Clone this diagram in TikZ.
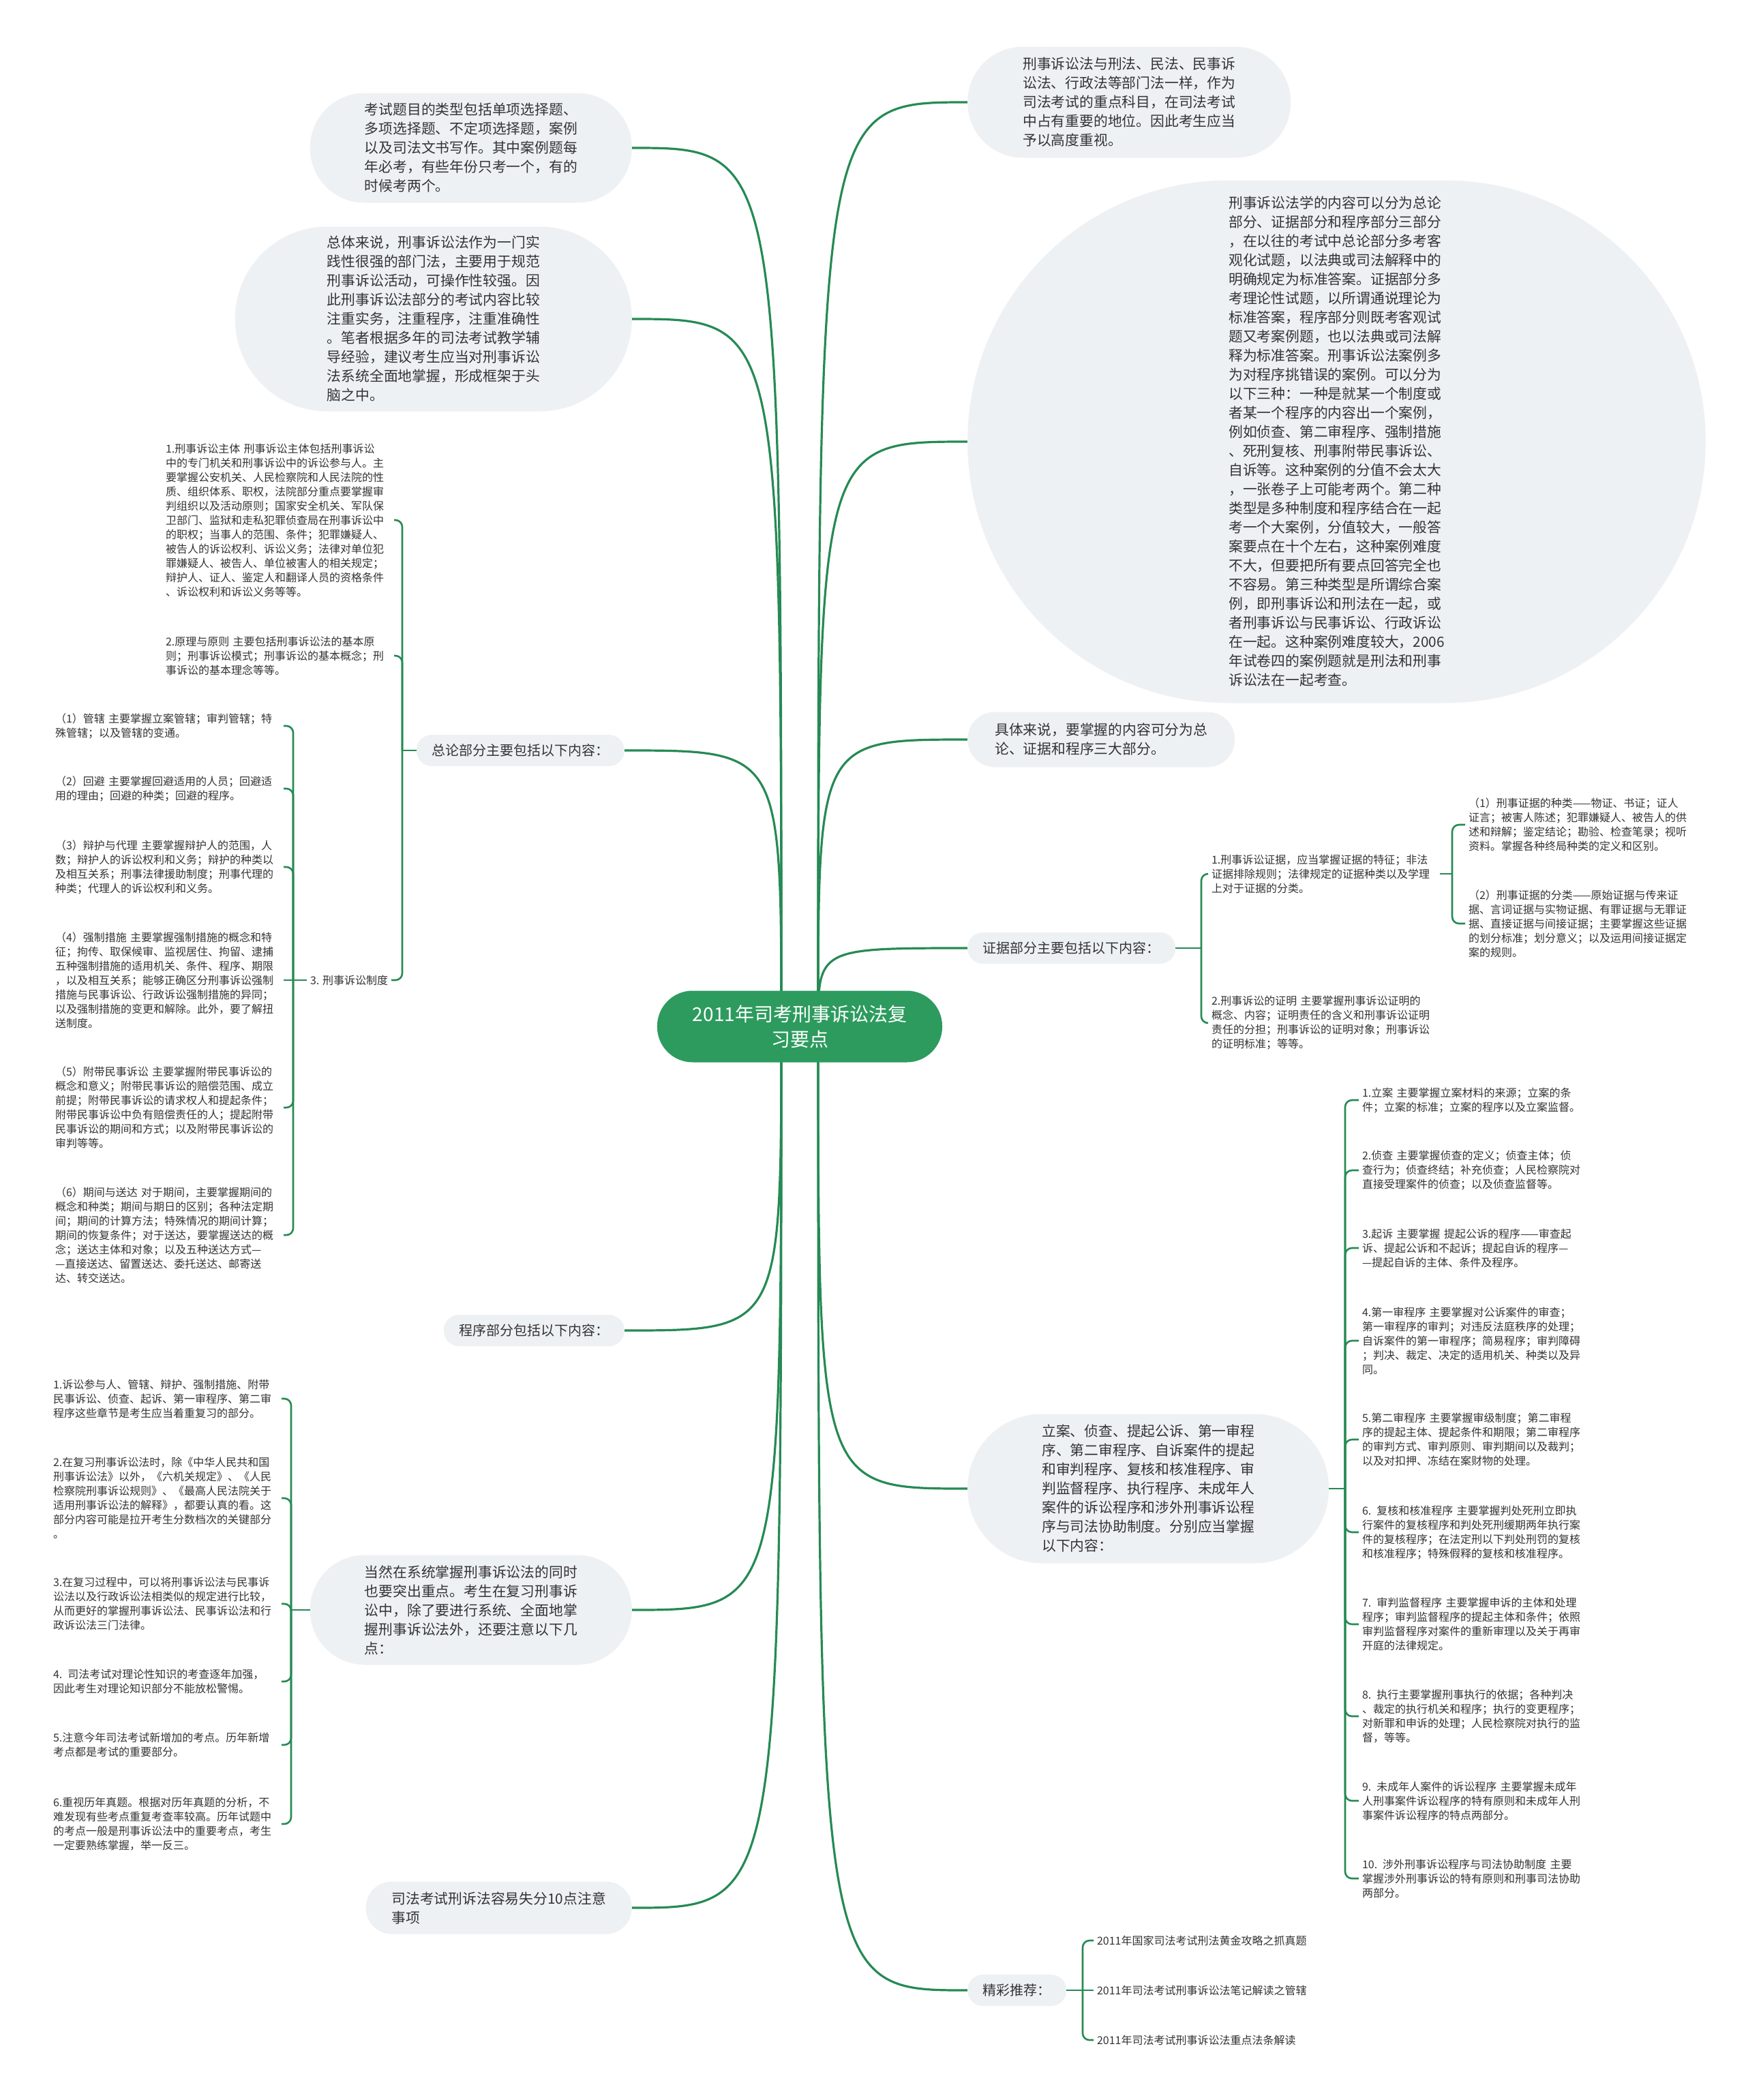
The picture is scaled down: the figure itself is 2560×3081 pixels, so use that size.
\documentclass[tikz,border=0pt]{standalone}
\usepackage{fontspec}
\newfontfamily\cjkfont{Noto Sans CJK SC}
\usetikzlibrary{backgrounds}
\definecolor{branch}{HTML}{268A54}
\definecolor{hubfill}{HTML}{2D9B5E}
\definecolor{bubblefill}{HTML}{EEF1F4}
\definecolor{ink}{HTML}{333333}

\begin{document}
\begin{tikzpicture}[x=1pt,y=-1pt,
    hub/.style={rectangle,rounded corners=52pt,minimum height=105pt,inner xsep=52pt,inner ysep=0pt,fill=hubfill,text=white,align=center,font=\cjkfont\fontsize{28pt}{37pt}\selectfont},
    bubble/.style={rectangle,rounded corners=#1,minimum height=2*#1+1pt,inner xsep=#1,inner ysep=0pt,fill=bubblefill,text=ink,align=left,font=\cjkfont\fontsize{20.8pt}{28pt}\selectfont},
    topic/.style={rectangle,rounded corners=22.5pt,minimum height=46pt,inner xsep=22.5pt,inner ysep=0pt,fill=bubblefill,text=ink,font=\cjkfont\fontsize{20pt}{24pt}\selectfont},
    leaf/.style={text=ink,align=left,inner sep=0pt,outer sep=5pt,font=\cjkfont\fontsize{16pt}{21pt}\selectfont},
    limb/.style={draw=branch,line width=3.2pt},
    brk/.style={draw=branch,line width=2.6pt,rounded corners=10pt}]
            \useasboundingbox (0,0) rectangle (2560,3081);

            \node[hub] (root) at (1173,1506) {2011年司考刑事诉讼法复\\习要点};
            \coordinate (rs) at (1200,1506);
            \coordinate (ls) at (1146,1506);

            \node[bubble=81pt,anchor=west] (r1) at (1419,150) {刑事诉讼法与刑法、民法、民事诉\\讼法、行政法等部门法一样，作为\\司法考试的重点科目，在司法考试\\中占有重要的地位。因此考生应当\\予以高度重视。};
            \node[bubble=383pt,anchor=west] (r2) at (1419,648) {刑事诉讼法学的内容可以分为总论\\部分、证据部分和程序部分三部分\\，在以往的考试中总论部分多考客\\观化试题，以法典或司法解释中的\\明确规定为标准答案。证据部分多\\考理论性试题，以所谓通说理论为\\标准答案，程序部分则既考客观试\\题又考案例题，也以法典或司法解\\释为标准答案。刑事诉讼法案例多\\为对程序挑错误的案例。可以分为\\以下三种：一种是就某一个制度或\\者某一个程序的内容出一个案例，\\例如侦查、第二审程序、强制措施\\、死刑复核、刑事附带民事诉讼、\\自诉等。这种案例的分值不会太大\\，一张卷子上可能考两个。第二种\\类型是多种制度和程序结合在一起\\考一个大案例，分值较大，一般答\\案要点在十个左右，这种案例难度\\不大，但要把所有要点回答完全也\\不容易。第三种类型是所谓综合案\\例，即刑事诉讼和刑法在一起，或\\者刑事诉讼与民事诉讼、行政诉讼\\在一起。这种案例难度较大，2006\\年试卷四的案例题就是刑法和刑事\\诉讼法在一起考查。};
            \node[bubble=40pt,anchor=west] (r3) at (1419,1085) {具体来说，要掌握的内容可分为总\\论、证据和程序三大部分。};
            \node[topic,anchor=west] (r4) at (1419,1391) {证据部分主要包括以下内容：};
            \node[bubble=109pt,anchor=west] (r5) at (1419,2184) {立案、侦查、提起公诉、第一审程\\序、第二审程序、自诉案件的提起\\和审判程序、复核和核准程序、审\\判监督程序、执行程序、未成年人\\案件的诉讼程序和涉外刑事诉讼程\\序与司法协助制度。分别应当掌握\\以下内容：};
            \node[topic,anchor=west] (r6) at (1419,2920) {精彩推荐：};

            \node[leaf,anchor=west,text width=330pt] (e1) at (1772,1282) {1.刑事诉讼证据，应当掌握证据的特征；非法\\证据排除规则；法律规定的证据种类以及学理\\上对于证据的分类。};
            \node[leaf,anchor=west,text width=330pt] (e2) at (1772,1501) {2.刑事诉讼的证明 主要掌握刑事诉讼证明的\\概念、内容；证明责任的含义和刑事诉讼证明\\责任的分担；刑事诉讼的证明对象；刑事诉讼\\的证明标准；等等。};
            \node[leaf,anchor=west,text width=330pt] (e1a) at (2149,1210) {（1）刑事证据的种类——物证、书证；证人\\证言；被害人陈述；犯罪嫌疑人、被告人的供\\述和辩解；鉴定结论；勘验、检查笔录；视听\\资料。掌握各种终局种类的定义和区别。};
            \node[leaf,anchor=west,text width=330pt] (e1b) at (2149,1355) {（2）刑事证据的分类——原始证据与传来证\\据、言词证据与实物证据、有罪证据与无罪证\\据、直接证据与间接证据；主要掌握这些证据\\的划分标准；划分意义；以及运用间接证据定\\案的规则。};

            \node[leaf,anchor=west,text width=330pt] (p1) at (1993,1614) {1.立案 主要掌握立案材料的来源；立案的条\\件；立案的标准；立案的程序以及立案监督。};
            \node[leaf,anchor=west,text width=330pt] (p2) at (1993,1717) {2.侦查 主要掌握侦查的定义；侦查主体；侦\\查行为；侦查终结；补充侦查；人民检察院对\\直接受理案件的侦查；以及侦查监督等。};
            \node[leaf,anchor=west,text width=330pt] (p3) at (1993,1831) {3.起诉 主要掌握 提起公诉的程序——审查起\\诉、提起公诉和不起诉；提起自诉的程序—\\—提起自诉的主体、条件及程序。};
            \node[leaf,anchor=west,text width=330pt] (p4) at (1993,1967) {4.第一审程序 主要掌握对公诉案件的审查；\\第一审程序的审判；对违反法庭秩序的处理；\\自诉案件的第一审程序；简易程序；审判障碍\\；判决、裁定、决定的适用机关、种类以及异\\同。};
            \node[leaf,anchor=west,text width=330pt] (p5) at (1993,2112) {5.第二审程序 主要掌握审级制度；第二审程\\序的提起主体、提起条件和期限；第二审程序\\的审判方式、审判原则、审判期间以及裁判；\\以及对扣押、冻结在案财物的处理。};
            \node[leaf,anchor=west,text width=330pt] (p6) at (1993,2248) {6. 复核和核准程序 主要掌握判处死刑立即执\\行案件的复核程序和判处死刑缓期两年执行案\\件的复核程序；在法定刑以下判处刑罚的复核\\和核准程序；特殊假释的复核和核准程序。};
            \node[leaf,anchor=west,text width=330pt] (p7) at (1993,2383) {7. 审判监督程序 主要掌握申诉的主体和处理\\程序；审判监督程序的提起主体和条件；依照\\审判监督程序对案件的重新审理以及关于再审\\开庭的法律规定。};
            \node[leaf,anchor=west,text width=330pt] (p8) at (1993,2518) {8. 执行主要掌握刑事执行的依据；各种判决\\、裁定的执行机关和程序；执行的变更程序；\\对新罪和申诉的处理；人民检察院对执行的监\\督，等等。};
            \node[leaf,anchor=west,text width=330pt] (p9) at (1993,2642) {9. 未成年人案件的诉讼程序 主要掌握未成年\\人刑事案件诉讼程序的特有原则和未成年人刑\\事案件诉讼程序的特点两部分。};
            \node[leaf,anchor=west,text width=330pt] (p10) at (1993,2756) {10. 涉外刑事诉讼程序与司法协助制度 主要\\掌握涉外刑事诉讼的特有原则和刑事司法协助\\两部分。};

            \node[leaf,anchor=west] (j1) at (1604,2847) {2011年国家司法考试刑法黄金攻略之抓真题};
            \node[leaf,anchor=west] (j2) at (1604,2920) {2011年司法考试刑事诉讼法笔记解读之管辖};
            \node[leaf,anchor=west] (j3) at (1604,2993) {2011年司法考试刑事诉讼法重点法条解读};

            \node[bubble=80pt,anchor=east] (l1) at (927,217) {考试题目的类型包括单项选择题、\\多项选择题、不定项选择题，案例\\以及司法文书写作。其中案例题每\\年必考，有些年份只考一个，有的\\时候考两个。};
            \node[bubble=135pt,anchor=east] (l2) at (927,468) {总体来说，刑事诉讼法作为一门实\\践性很强的部门法，主要用于规范\\刑事诉讼活动，可操作性较强。因\\此刑事诉讼法部分的考试内容比较\\注重实务，注重程序，注重准确性\\。笔者根据多年的司法考试教学辅\\导经验，建议考生应当对刑事诉讼\\法系统全面地掌握，形成框架于头\\脑之中。};
            \node[topic,anchor=east] (zl) at (916,1101) {总论部分主要包括以下内容：};
            \node[topic,anchor=east] (zc) at (916,1952) {程序部分包括以下内容：};
            \node[bubble=80pt,anchor=east] (lb) at (927,2362) {当然在系统掌握刑事诉讼法的同时\\也要突出重点。考生在复习刑事诉\\讼中，除了要进行系统、全面地掌\\握刑事诉讼法外，还要注意以下几\\点：};
            \node[bubble=38pt,anchor=east] (lc) at (927,2799) {司法考试刑诉法容易失分10点注意\\事项};

            \node[leaf,anchor=west,text width=330pt] (g1) at (238,763) {1.刑事诉讼主体 刑事诉讼主体包括刑事诉讼\\中的专门机关和刑事诉讼中的诉讼参与人。主\\要掌握公安机关、人民检察院和人民法院的性\\质、组织体系、职权，法院部分重点要掌握审\\判组织以及活动原则；国家安全机关、军队保\\卫部门、监狱和走私犯罪侦查局在刑事诉讼中\\的职权；当事人的范围、条件；犯罪嫌疑人、\\被告人的诉讼权利、诉讼义务；法律对单位犯\\罪嫌疑人、被告人、单位被害人的相关规定；\\辩护人、证人、鉴定人和翻译人员的资格条件\\、诉讼权利和诉讼义务等等。};
            \node[leaf,anchor=west,text width=330pt] (g2) at (238,962) {2.原理与原则 主要包括刑事诉讼法的基本原\\则；刑事诉讼模式；刑事诉讼的基本概念；刑\\事诉讼的基本理念等等。};
            \node[leaf,anchor=west] (g3) at (450,1438) {3. 刑事诉讼制度};
            \node[leaf,anchor=west,text width=330pt] (g3a) at (76,1065) {（1）管辖 主要掌握立案管辖；审判管辖；特\\殊管辖；以及管辖的变通。};
            \node[leaf,anchor=west,text width=330pt] (g3b) at (76,1157) {（2）回避 主要掌握回避适用的人员；回避适\\用的理由；回避的种类；回避的程序。};
            \node[leaf,anchor=west,text width=330pt] (g3c) at (76,1272) {（3）辩护与代理 主要掌握辩护人的范围，人\\数；辩护人的诉讼权利和义务；辩护的种类以\\及相互关系；刑事法律援助制度；刑事代理的\\种类；代理人的诉讼权利和义务。};
            \node[leaf,anchor=west,text width=330pt] (g3d) at (76,1438) {（4）强制措施 主要掌握强制措施的概念和特\\征；拘传、取保候审、监视居住、拘留、逮捕\\五种强制措施的适用机关、条件、程序、期限\\，以及相互关系；能够正确区分刑事诉讼强制\\措施与民事诉讼、行政诉讼强制措施的异同；\\以及强制措施的变更和解除。此外，要了解扭\\送制度。};
            \node[leaf,anchor=west,text width=330pt] (g3e) at (76,1625) {（5）附带民事诉讼 主要掌握附带民事诉讼的\\概念和意义；附带民事诉讼的赔偿范围、成立\\前提；附带民事诉讼的请求权人和提起条件；\\附带民事诉讼中负有赔偿责任的人；提起附带\\民事诉讼的期间和方式；以及附带民事诉讼的\\审判等等。};
            \node[leaf,anchor=west,text width=330pt] (g3f) at (76,1812) {（6）期间与送达 对于期间，主要掌握期间的\\概念和种类；期间与期日的区别；各种法定期\\间；期间的计算方法；特殊情况的期间计算；\\期间的恢复条件；对于送达，要掌握送达的概\\念；送达主体和对象；以及五种送达方式—\\—直接送达、留置送达、委托送达、邮寄送\\达、转交送达。};

            \node[leaf,anchor=west,text width=330pt] (n1) at (73,2052) {1.诉讼参与人、管辖、辩护、强制措施、附带\\民事诉讼、侦查、起诉、第一审程序、第二审\\程序这些章节是考生应当着重复习的部分。};
            \node[leaf,anchor=west,text width=330pt] (n2) at (73,2198) {2.在复习刑事诉讼法时，除《中华人民共和国\\刑事诉讼法》以外，《六机关规定》、《人民\\检察院刑事诉讼规则》、《最高人民法院关于\\适用刑事诉讼法的解释》，都要认真的看。这\\部分内容可能是拉开考生分数档次的关键部分\\。};
            \node[leaf,anchor=west,text width=330pt] (n3) at (73,2353) {3.在复习过程中，可以将刑事诉讼法与民事诉\\讼法以及行政诉讼法相类似的规定进行比较，\\从而更好的掌握刑事诉讼法、民事诉讼法和行\\政诉讼法三门法律。};
            \node[leaf,anchor=west,text width=330pt] (n4) at (73,2467) {4. 司法考试对理论性知识的考查逐年加强，\\因此考生对理论知识部分不能放松警惕。};
            \node[leaf,anchor=west,text width=330pt] (n5) at (73,2560) {5.注意今年司法考试新增加的考点。历年新增\\考点都是考试的重要部分。};
            \node[leaf,anchor=west,text width=330pt] (n6) at (73,2676) {6.重视历年真题。根据对历年真题的分析，不\\难发现有些考点重复考查率较高。历年试题中\\的考点一般是刑事诉讼法中的重要考点，考生\\一定要熟练掌握，举一反三。};

            \coordinate (zlt) at (590,1101);
            \coordinate (g3t) at (430,1438);
            \coordinate (lbt) at (427,2362);
            \coordinate (r4t) at (1762,1391);
            \coordinate (e1t) at (2130,1282);
            \coordinate (r5t) at (1973,2184);
            \coordinate (r6t) at (1588,2920);

            \draw[brk] (zl.west) -- (zlt);
            \draw[brk] (zlt) |- (g1.east);
            \draw[brk] (zlt) |- (g2.east);
            \draw[brk] (zlt) |- (g3.east);
            \draw[brk] (g3.west) -- (g3t);
            \draw[brk] (g3t) |- (g3a.east);
            \draw[brk] (g3t) |- (g3b.east);
            \draw[brk] (g3t) |- (g3c.east);
            \draw[brk] (g3t) -- (g3d.east);
            \draw[brk] (g3t) |- (g3e.east);
            \draw[brk] (g3t) |- (g3f.east);
            \draw[brk] (lb.west) -- (lbt);
            \draw[brk] (lbt) |- (n1.east);
            \draw[brk] (lbt) |- (n2.east);
            \draw[brk] (lbt) |- (n3.east);
            \draw[brk] (lbt) |- (n4.east);
            \draw[brk] (lbt) |- (n5.east);
            \draw[brk] (lbt) |- (n6.east);

            \draw[brk] (r4.east) -- (r4t);
            \draw[brk] (r4t) |- (e1.west);
            \draw[brk] (r4t) |- (e2.west);
            \draw[brk] (e1.east) -- (e1t);
            \draw[brk] (e1t) |- (e1a.west);
            \draw[brk] (e1t) |- (e1b.west);
            \draw[brk] (r5.east) -- (r5t);
            \draw[brk] (r5t) |- (p1.west);
            \draw[brk] (r5t) |- (p2.west);
            \draw[brk] (r5t) |- (p3.west);
            \draw[brk] (r5t) |- (p4.west);
            \draw[brk] (r5t) |- (p5.west);
            \draw[brk] (r5t) |- (p6.west);
            \draw[brk] (r5t) |- (p7.west);
            \draw[brk] (r5t) |- (p8.west);
            \draw[brk] (r5t) |- (p9.west);
            \draw[brk] (r5t) |- (p10.west);
            \draw[brk] (r6.east) -- (r6t);
            \draw[brk] (r6t) |- (j1.west);
            \draw[brk] (r6t) -- (j2.west);
            \draw[brk] (r6t) |- (j3.west);

            \begin{scope}[on background layer]
            \fill[white] (0,0) rectangle (2560,3081);
            \draw[limb] (rs) .. controls (rs |- r1.west) .. (r1.west);
            \draw[limb] (rs) .. controls (rs |- r2.west) .. (r2.west);
            \draw[limb] (rs) .. controls (rs |- r3.west) .. (r3.west);
            \draw[limb] (rs) .. controls (rs |- r4.west) .. (r4.west);
            \draw[limb] (rs) .. controls (rs |- r5.west) .. (r5.west);
            \draw[limb] (rs) .. controls (rs |- r6.west) .. (r6.west);
            \draw[limb] (ls) .. controls (ls |- l1.east) .. (l1.east);
            \draw[limb] (ls) .. controls (ls |- l2.east) .. (l2.east);
            \draw[limb] (ls) .. controls (ls |- zl.east) .. (zl.east);
            \draw[limb] (ls) .. controls (ls |- zc.east) .. (zc.east);
            \draw[limb] (ls) .. controls (ls |- lb.east) .. (lb.east);
            \draw[limb] (ls) .. controls (ls |- lc.east) .. (lc.east);
            \end{scope}
        \end{tikzpicture}
\end{document}
